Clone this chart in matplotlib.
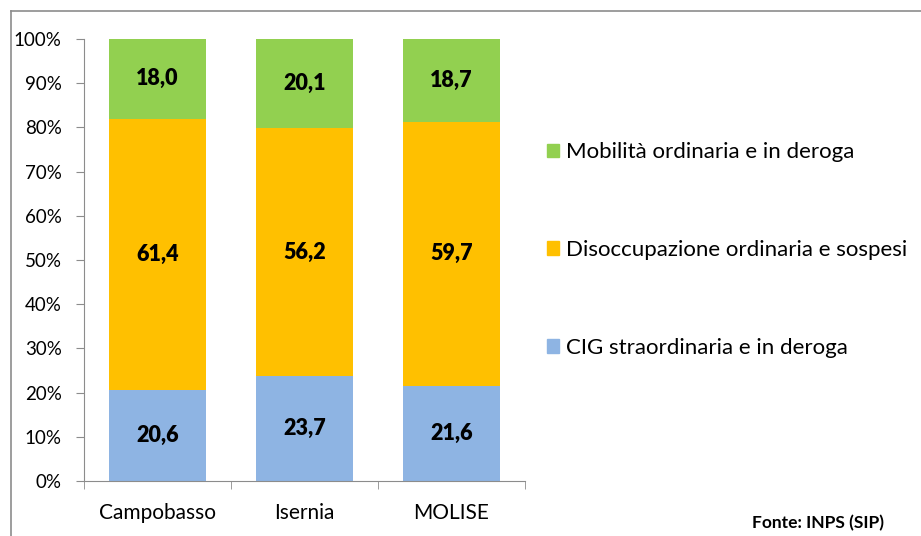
import matplotlib.pyplot as plt
import matplotlib.patches as mpatches
import numpy as np

plt.rcParams['font.family'] = ['Lato', 'DejaVu Sans']

categories = ["Campobasso", "Isernia", "MOLISE"]
cig = [20.6, 23.7, 21.6]
disocc = [61.4, 56.2, 59.7]
mobilita = [18.0, 20.1, 18.7]

series = [
    ("CIG straordinaria e in deroga", cig, "#8EB4E3"),
    ("Disoccupazione ordinaria e sospesi", disocc, "#FFC000"),
    ("Mobilità ordinaria e in deroga", mobilita, "#92D050"),
]

fig = plt.figure(figsize=(9.21, 5.36), dpi=100)
ax = fig.add_axes([84 / 921, 1 - 481 / 536, (525 - 84) / 921, (481 - 39) / 536])

# chart area border
fig.add_artist(plt.Line2D([11 / 921, 11 / 921], [0, 1 - 11 / 536], color="#8c8c8c", lw=1.2))
fig.add_artist(plt.Line2D([11 / 921, 1], [1 - 11 / 536, 1 - 11 / 536], color="#8c8c8c", lw=1.2))

x = np.arange(len(categories))
bottom = np.zeros(len(categories))
handles = []
for name, vals, col in series:
    vals = np.array(vals)
    ax.bar(x, vals, 0.66, bottom=bottom, color=col, edgecolor="none")
    for xi, b, v in zip(x, bottom, vals):
        ax.text(xi, b + v / 2, f"{v:.1f}".replace(".", ","), ha="center", va="center",
                fontsize=15.5, fontweight="heavy", color="black")
    bottom += vals
    handles.append(mpatches.Patch(color=col, label=name))

ax.set_xlim(-0.5, 2.5)
ax.set_ylim(0, 100)
ax.set_yticks(np.arange(0, 101, 10))
ax.set_yticklabels([f"{v}%" for v in range(0, 101, 10)])
ax.set_xticks(x)
ax.set_xticklabels(categories)
ax.set_xticks([-0.5, 0.5, 1.5, 2.5], minor=True)
ax.tick_params(axis="x", which="major", length=0, pad=16, labelsize=15)
ax.tick_params(axis="x", which="minor", length=6, color="#8c8c8c", direction="out")
ax.tick_params(axis="y", length=6, color="#8c8c8c", labelsize=13.5, pad=10)
for s in ["top", "right"]:
    ax.spines[s].set_visible(False)
for s in ["left", "bottom"]:
    ax.spines[s].set_color("#8c8c8c")

leg = fig.legend(handles=handles[::-1], loc="center left", bbox_to_anchor=(527 / 921, 1 - 250 / 536),
                 frameon=False, fontsize=16, handlelength=0.55, handleheight=0.55,
                 handletextpad=0.3, labelspacing=3.5)

fig.text(884 / 921, 1 - 523 / 536, "Fonte: INPS (SIP)", ha="right", va="center",
         fontsize=12.5, fontweight="bold")

fig.savefig("out.png", dpi=100)
